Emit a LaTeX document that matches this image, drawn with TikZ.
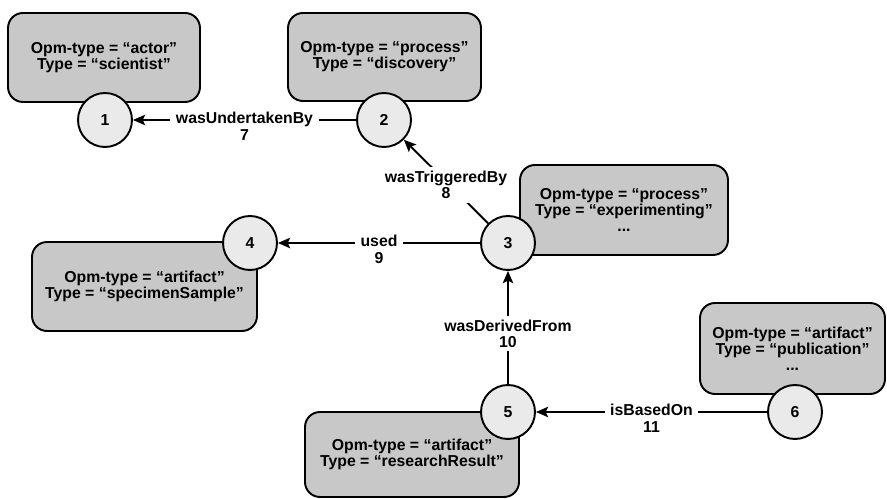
\documentclass[tikz,border=0pt]{standalone}
\usepackage{fontspec}
\setmainfont{Liberation Sans}
\usepackage{xcolor}
\definecolor{boxgray}{RGB}{200,200,200}
\definecolor{idgray}{RGB}{234,234,234}
\usetikzlibrary{arrows.meta}
\tikzset{>={Stealth[length=7pt,width=6pt,inset=1.5pt]}}
\tikzset{
  opm box/.style={draw, fill=boxgray, line width=1.1pt, rounded corners=8.5pt,
    align=center, inner sep=0pt},
  opm id/.style={circle, draw, fill=idgray, line width=1.1pt,
    minimum size=1.08cm, inner sep=0pt},
  opm edge/.style={->, line width=1.1pt},
  edge label/.style={fill=white, align=center, inner ysep=2pt, inner xsep=3.2pt,
    font=\bfseries\fontsize{9}{9.4}\selectfont},
  first line/.style={anchor=north, yshift=7pt}
}

\begin{document}
\begin{tikzpicture}[x=0.02cm,y=-0.02cm,
    every node/.style={font=\bfseries\fontsize{9}{9.1}\selectfont}]
    \useasboundingbox (0,0) rectangle (887,499);
    % property boxes
    \node[opm box, minimum width=3.84cm, minimum height=1.78cm] (b1) at (104,57.5)
        {Opm-type = “actor”\\Type = “scientist”};
    \node[opm box, minimum width=3.86cm, minimum height=1.76cm] (b2) at (384.5,57)
        {Opm-type = “process”\\Type = “discovery”};
    \node[opm box, minimum width=4.16cm, minimum height=1.80cm] (b3) at (624,210)
        {Opm-type = “process”\\Type = “experimenting”\\...};
    \node[opm box, minimum width=4.50cm, minimum height=1.78cm] (b4) at (144.5,286.5)
        {Opm-type = “artifact”\\Type = “specimenSample”};
    \node[opm box, minimum width=4.28cm, minimum height=1.70cm] (b5) at (412,454.5)
        {Opm-type = “artifact”\\Type = “researchResult”};
    \node[opm box, minimum width=3.70cm, minimum height=1.82cm] (b6) at (792.5,348.5)
        {Opm-type = “artifact”\\Type = “publication”\\...};
    % numbered entities
    \node[opm id] (n1) at (105,120) {1};
    \node[opm id] (n2) at (384,120) {2};
    \node[opm id] (n3) at (508,243) {3};
    \node[opm id] (n4) at (250,243) {4};
    \node[opm id] (n5) at (508,412) {5};
    \node[opm id] (n6) at (795,412) {6};
    % relations
    \draw[opm edge] (n2) -- node[edge label, first line] (r7) {wasUndertakenBy\\7} (n1);
    \draw[opm edge] (n3) -- node[edge label, yshift=-2pt] (r8) {wasTriggeredBy\\8} (n2);
    \draw[opm edge] (n3) -- node[edge label, first line] (r9) {used\\9} (n4);
    \draw[opm edge] (n5) -- node[edge label, first line] (r10) {wasDerivedFrom\\10} (n3);
    \draw[opm edge] (n6) -- node[edge label, first line] (r11) {isBasedOn\\11} (n5);
\end{tikzpicture}
\end{document}
